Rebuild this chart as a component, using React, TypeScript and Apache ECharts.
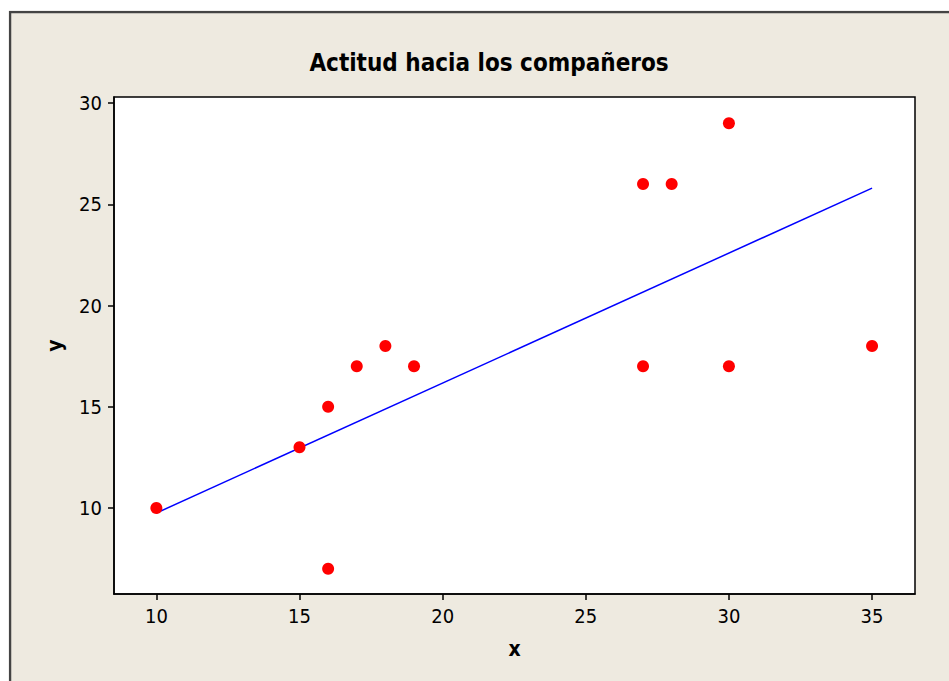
import React, { useEffect, useRef } from "react";
import * as echarts from "echarts";

const xValues = [10, 15, 16, 16, 17, 18, 19, 27, 27, 28, 30, 30, 35];
const yValues = [10, 13, 15, 7, 17, 18, 17, 26, 17, 26, 29, 17, 18];
const fitLineX = [10, 35];
const fitLineY = [9.75, 25.8];
const xTicks = [10, 15, 20, 25, 30, 35];
const yTicks = [10, 15, 20, 25, 30];
const titleText = "Actitud hacia los compañeros";

const FONT = "'DejaVu Sans Condensed', 'DejaVu Sans', sans-serif";

export default function App() {
  const ref = useRef<HTMLDivElement>(null);
  useEffect(() => {
    document.body.style.margin = "0";
    const chart = echarts.init(ref.current!, null, { renderer: "svg" });
    const points = xValues.map((x, i) => [x, yValues[i]]);
    const line = fitLineX.map((x, i) => [x, fitLineY[i]]);
    chart.setOption({
      animation: false,
      backgroundColor: "#EEEAE0",
      graphic: [
        {
          type: "rect",
          z: 100,
          silent: true,
          shape: { x: 10, y: 12, width: 960, height: 700 },
          style: { fill: "none", stroke: "#444", lineWidth: 2.5 },
        },
        {
          type: "rect",
          z: 100,
          silent: true,
          shape: { x: 0, y: 0, width: 949, height: 10.75 },
          style: { fill: "#ffffff" },
        },
        {
          type: "rect",
          z: 100,
          silent: true,
          shape: { x: 0, y: 0, width: 8.75, height: 681 },
          style: { fill: "#ffffff" },
        },
      ],
      title: {
        text: titleText,
        left: 484,
        textAlign: "center",
        top: 46,
        textStyle: { fontFamily: FONT, fontWeight: "bold", fontSize: 24, color: "#000" },
      },
      grid: {
        left: 114,
        top: 97,
        right: 34,
        bottom: 87,
        show: true,
        backgroundColor: "#ffffff",
        borderColor: "#000",
        borderWidth: 1.5,
      },
      xAxis: {
        type: "value",
        min: 8.52,
        max: 36.5,
        name: "x",
        nameLocation: "middle",
        nameGap: 44,
        nameTextStyle: { fontFamily: FONT, fontWeight: "bold", fontSize: 21, color: "#000" },
        splitLine: { show: false },
        axisLine: { show: true, onZero: false, lineStyle: { color: "#000", width: 1.5 } },
        axisTick: { show: true, length: 6, customValues: xTicks, lineStyle: { color: "#000", width: 1.5 } },
        axisLabel: { customValues: xTicks, margin: 12, fontFamily: FONT, fontSize: 20, color: "#000" },
      },
      yAxis: {
        type: "value",
        min: 5.75,
        max: 30.3,
        name: "y",
        nameLocation: "middle",
        nameGap: 49,
        nameRotate: 90,
        nameTextStyle: { fontFamily: FONT, fontWeight: "bold", fontSize: 21, color: "#000" },
        splitLine: { show: false },
        axisLine: { show: true, onZero: false, lineStyle: { color: "#000", width: 1.5 } },
        axisTick: { show: true, length: 6, customValues: yTicks, lineStyle: { color: "#000", width: 1.5 } },
        axisLabel: { customValues: yTicks, margin: 12, fontFamily: FONT, fontSize: 20, color: "#000" },
      },
      series: [
        {
          type: "line",
          data: line,
          symbol: "none",
          lineStyle: { color: "#0000FF", width: 1.5 },
          z: 2,
        },
        {
          type: "scatter",
          data: points,
          symbol: "circle",
          symbolSize: 12,
          itemStyle: { color: "#FF0000", opacity: 1 },
          z: 3,
        },
      ],
    });
    return () => chart.dispose();
  }, []);
  return <div ref={ref} style={{ width: 949, height: 681 }} />;
}
